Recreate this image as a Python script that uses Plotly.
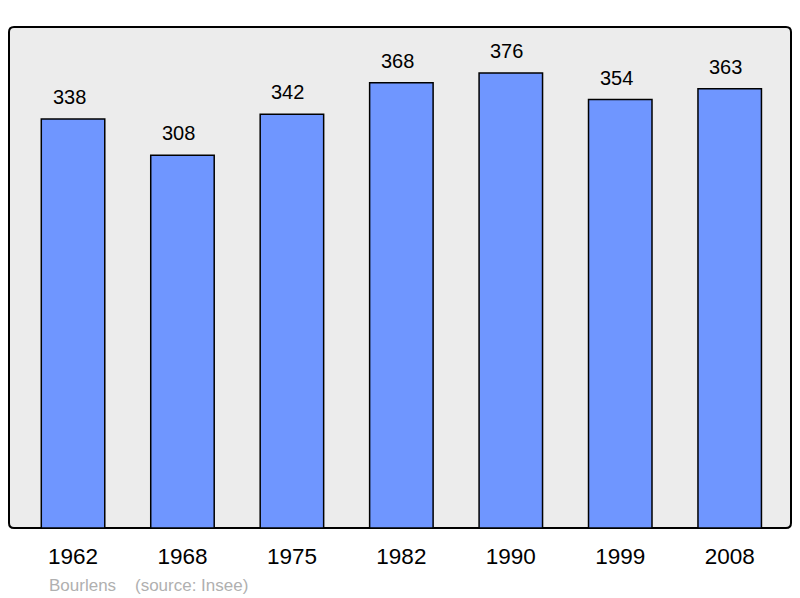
import plotly.graph_objects as go

years = ["1962", "1968", "1975", "1982", "1990", "1999", "2008"]
population = [338, 308, 342, 368, 376, 354, 363]
footer_place = "Bourlens"
footer_source = "(source: Insee)"

# page body has an 8px margin; figure coords = screen coords - 8
W, H = 784, 590
ml, mt = 1, 19
pw, ph = 782, 501
mr, mb = W - ml - pw, H - mt - ph
FONT = "Liberation Sans, Arial, sans-serif"

fig = go.Figure()
fig.add_trace(go.Bar(
    x=list(range(len(years))), y=population,
    width=0.58,
    marker=dict(color="#6f96ff", line=dict(color="#000000", width=1.5)),
    hoverinfo="skip",
))

for i, v in enumerate(population):
    fig.add_annotation(x=i, y=v, text=str(v), showarrow=False,
                       yanchor="bottom", yshift=9, xshift=-4,
                       font=dict(size=20, color="#000000", family=FONT))

# rounded frame in paper coords
r = 5
rx, ry = r / pw, r / ph
path = (f"M {rx},0 L {1-rx},0 Q 1,0 1,{ry} L 1,{1-ry} Q 1,1 {1-rx},1 "
        f"L {rx},1 Q 0,1 0,{1-ry} L 0,{ry} Q 0,0 {rx},0 Z")
fig.add_shape(type="path", path=path, xref="paper", yref="paper",
              fillcolor="#ececec", line=dict(color="#000000", width=2), layer="below")

fig.add_annotation(xref="paper", yref="paper", x=(39 - ml) / pw, y=-(577 - mt - ph) / ph,
                   text=footer_place + "\u00a0\u00a0\u00a0\u00a0" + footer_source,
                   showarrow=False, xanchor="left", yanchor="middle",
                   font=dict(size=17, color="#b0b0b0", family=FONT))

fig.update_layout(
    width=W, height=H,
    margin=dict(l=ml, r=mr, t=mt, b=mb),
    paper_bgcolor="#ffffff", plot_bgcolor="rgba(0,0,0,0)",
    showlegend=False,
    xaxis=dict(range=[-0.585, 6.56], tickmode="array", tickvals=list(range(len(years))),
               ticktext=years, showgrid=False, zeroline=False, showline=False, ticks="",
               ticklabelstandoff=12,
               tickfont=dict(size=22.5, color="#000000", family=FONT),
               fixedrange=True),
    yaxis=dict(range=[0, 414], showgrid=False, zeroline=False, showline=False,
               showticklabels=False, ticks="", fixedrange=True),
)

fig.write_html("out.html")
